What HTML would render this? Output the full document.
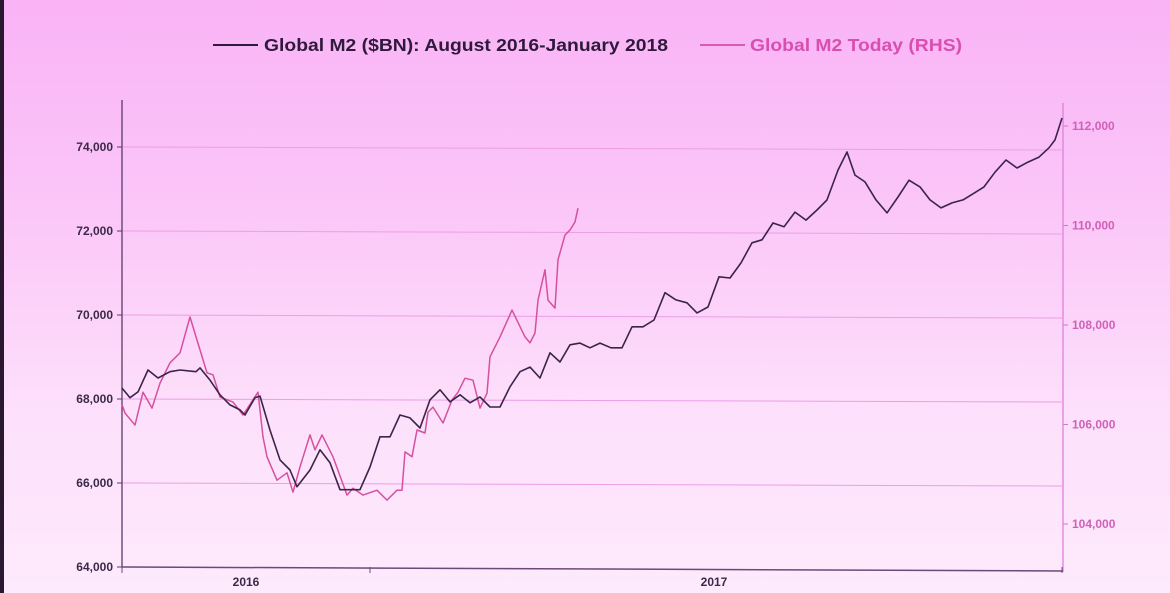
<!DOCTYPE html>
<html><head><meta charset="utf-8"><style>
html,body{margin:0;padding:0}
body{width:1170px;height:593px;overflow:hidden;background:linear-gradient(to bottom,#f9b3f6 0%,#fbc6f8 35%,#fde0fb 70%,#fdeafc 100%);font-family:"Liberation Sans",sans-serif;position:relative}
#edge{position:absolute;left:0;top:0;width:4px;height:593px;background:#2a1830}
</style></head><body>
<div id="edge"></div>
<svg id="chart" width="1170" height="593" style="position:absolute;left:0;top:0">
<g>
<line x1="213" y1="45" x2="258" y2="45" stroke="#2e1a3c" stroke-width="2"/>
<text x="264" y="51" font-size="17.5" font-weight="bold" fill="#2e1a3c" textLength="404" lengthAdjust="spacingAndGlyphs">Global M2 ($BN): August 2016-January 2018</text>
<line x1="700" y1="45" x2="745" y2="45" stroke="#d85ab8" stroke-width="2"/>
<text x="750" y="51" font-size="17.5" font-weight="bold" fill="#d84fb0" textLength="212" lengthAdjust="spacingAndGlyphs">Global M2 Today (RHS)</text>
</g>
<g id="grid"></g>
<g id="axes"></g>
<g id="series"></g>
</svg>
<script>
const leftTicks=[64000,66000,68000,70000,72000,74000];
const rightTicks=[104000,106000,108000,110000,112000];
const yearLabels=["2016","2017"];
const blackT=[0,8,16,26,36,48,58,74,78,88,98,108,118,123,133,138,148,158,168,175,188,198,208,218,238,248,258,268,278,288,298,308,318,328,338,348,358,368,378,388,398,408,418,428,438,448,458,468,478,489,500,510,521,532,543,554,565,575,586,597,608,619,630,640,651,662,673,684,695,705,716,725,733,743,754,765,776,787,798,808,819,830,841,852,862,873,884,895,906,917,927,933,940];
const blackV=[68260,68030,68170,68690,68500,68650,68690,68650,68740,68450,68100,67860,67740,67620,68030,68070,67260,66550,66310,65910,66310,66790,66480,65840,65840,66380,67100,67100,67620,67550,67310,67980,68220,67930,68100,67910,68050,67810,67810,68290,68650,68760,68500,69100,68880,69290,69330,69220,69330,69220,69220,69720,69720,69880,70530,70360,70290,70050,70190,70910,70880,71240,71720,71790,72190,72100,72450,72260,72500,72740,73450,73880,73330,73170,72740,72430,72810,73210,73050,72740,72550,72670,72740,72900,73050,73400,73690,73500,73640,73760,73980,74170,74690];
const pinkT=[0,3,13,21,30,38,48,58,68,78,85,91,98,111,121,136,141,145,155,165,171,178,188,193,200,211,225,231,241,255,265,275,280,283,290,295,303,306,311,321,330,336,343,351,358,365,368,378,390,403,408,413,416,423,426,433,436,443,448,453,456];
const pinkV=[106400,106230,105990,106650,106330,106830,107240,107440,108160,107500,107040,107000,106550,106450,106190,106650,105750,105350,104880,105030,104640,105150,105790,105490,105790,105350,104580,104720,104580,104680,104480,104680,104680,105450,105350,105890,105830,106250,106350,106030,106490,106650,106930,106890,106330,106630,107360,107760,108300,107760,107640,107840,108500,109110,108500,108340,109310,109810,109910,110070,110350];
const NS="http://www.w3.org/2000/svg";
const X0=122,X1=1062,TMAX=940;
const xs=t=>X0+(t/TMAX)*(X1-X0);
const yL=v=>147+(74000-v)*0.042;
const yR=v=>126+(112000-v)*0.04975;
function mk(tag,attrs,parent){const e=document.createElementNS(NS,tag);for(const k in attrs)e.setAttribute(k,attrs[k]);parent.appendChild(e);return e;}
const grid=document.getElementById('grid'),axes=document.getElementById('axes'),series=document.getElementById('series');
leftTicks.forEach(v=>{
  if(v>64000){const g=mk('line',{x1:X0,x2:X1,y1:yL(v),y2:yL(v)+3,stroke:'#ec9ee6','stroke-width':1},grid);
  
  }
  const tk=mk('line',{x1:X0-5,x2:X0,y1:yL(v),y2:yL(v),stroke:'#5a3a6a','stroke-width':1},axes);
  
  
  const t=mk('text',{x:X0-9,y:yL(v)+4,'text-anchor':'end','font-size':12,'font-weight':'bold',fill:'#3a2a48'},axes);
  t.textContent=v.toLocaleString('en-US');
  
  
});
rightTicks.forEach(v=>{
  const tk=mk('line',{x1:X1+1,x2:X1+6,y1:yR(v),y2:yR(v),stroke:'#d870cc','stroke-width':1},axes);
  
  
  const t=mk('text',{x:X1+10,y:yR(v)+4,'font-size':12,'font-weight':'bold',fill:'#d060b8'},axes);
  t.textContent=v.toLocaleString('en-US');
  
  
});
let a=mk('line',{x1:X0,x2:X0,y1:100,y2:567,stroke:'#5a3a6a','stroke-width':1.3},axes);


a=mk('line',{x1:X1+1,x2:X1+1,y1:103,y2:572,stroke:'#e080dc','stroke-width':1.3},axes);


a=mk('line',{x1:X0,x2:X1+1,y1:567,y2:571,stroke:'#6a4a7a','stroke-width':1.5},axes);


[122,370,1062].forEach(x=>{const tk=mk('line',{x1:x,x2:x,y1:567,y2:573,stroke:'#6a4a7a','stroke-width':1},axes);

});
[[246,yearLabels[0]],[714,yearLabels[1]]].forEach(p=>{const t=mk('text',{x:p[0],y:586,'text-anchor':'middle','font-size':12,'font-weight':'bold',fill:'#3a2a48'},axes);
t.textContent=p[1];

});
let d=pinkT.map((t,i)=>(i?'L':'M')+xs(t).toFixed(1)+' '+yR(pinkV[i]).toFixed(1)).join(' ');
let p=mk('path',{d:d,fill:'none',stroke:'#d6509f','stroke-width':1.5,'stroke-linejoin':'round'},series);


d=blackT.map((t,i)=>(i?'L':'M')+xs(t).toFixed(1)+' '+yL(blackV[i]).toFixed(1)).join(' ');
p=mk('path',{d:d,fill:'none',stroke:'#3a2448','stroke-width':1.6,'stroke-linejoin':'round'},series);


</script>
</body></html>
